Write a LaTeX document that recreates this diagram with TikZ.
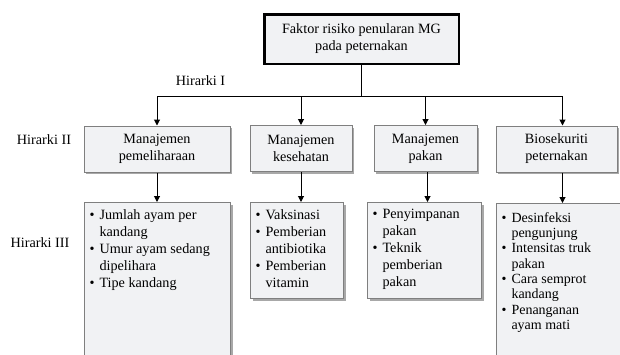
\documentclass[tikz,border=0pt]{standalone}
\usepackage{fontspec}
\usepackage{enumitem}
\setmainfont{Liberation Serif}
\usetikzlibrary{arrows.meta,positioning,shadows}

\definecolor{isikotak}{HTML}{F1F2F4}
\definecolor{tepikotak}{HTML}{7F7F7F}
\definecolor{bayangan}{HTML}{A8A8A8}

\newcommand{\isidaftar}[3]{\parbox[t][#2pt][t]{#1pt}{\selectfont\raggedright
  \begin{itemize}[label=\textbullet,align=left,labelwidth=10pt,labelsep=0pt,leftmargin=10pt,
    topsep=0pt,partopsep=0pt,itemsep=0pt,parsep=0pt]#3\end{itemize}}}

\begin{document}
\begin{tikzpicture}[x=1pt,y=-1pt,>={Triangle[length=6pt,width=6pt]},
  every node/.style={font=\fontsize{14.2}{17}\selectfont},
  puncak/.style={draw=black,line width=2.5pt,fill=isikotak,align=center,
    minimum width=194.5,minimum height=49.5},
  kotak/.style={draw=tepikotak,line width=1pt,fill=isikotak,
    drop shadow={shadow xshift=2pt,shadow yshift=-2pt,fill=bayangan,opacity=1}},
  tengah/.style={kotak,align=center,minimum height=46},
  daftar/.style={kotak,anchor=north,inner xsep=5pt,inner ysep=7pt},
  garis/.style={line width=1pt}]
  \useasboundingbox (0,0) rectangle (620,354);
  \clip (0,0) rectangle (620,354);

  \node[puncak] (faktor) at (361.5,39) {Faktor risiko penularan MG\\pada peternakan};
  \coordinate (bus) at (361.5,96);

  \node[tengah,minimum width=146] (m1) at (157,149) {Manajemen\\pemeliharaan};
  \node[tengah,minimum width=102] (m2) at (301,148.5) {Manajemen\\kesehatan};
  \node[tengah,minimum width=103] (m3) at (425.5,148.5) {Manajemen\\pakan};
  \node[tengah,minimum width=121] (m4) at (556.5,149) {Biosekuriti\\peternakan};
  \coordinate (t4) at ([xshift=6pt]m4.north);
  \coordinate (b4) at ([xshift=6pt]m4.south);
  \coordinate (b3) at ([xshift=2pt]m3.south);

  \node[daftar] (c1) at (157.5,202) {\isidaftar{136}{165}{%
    \item Jumlah ayam per\newline kandang
    \item Umur ayam sedang\newline dipelihara
    \item Tipe kandang}};
  \node[daftar] (c2) at (297,202) {\isidaftar{83}{82}{%
    \item Vaksinasi
    \item Pemberian\newline antibiotika
    \item Pemberian\newline vitamin}};
  \node[daftar] (c3) at (424.5,202) {\isidaftar{104}{82}{%
    \item Penyimpanan\newline pakan
    \item Teknik\newline pemberian\newline pakan}};
  \node[daftar,inner ysep=9pt,font=\fontsize{14}{15.3}\selectfont] (c4) at (560,203) {\isidaftar{117}{165}{%
    \item Desinfeksi\newline pengunjung
    \item Intensitas truk\newline pakan
    \item Cara semprot\newline kandang
    \item Penanganan\newline ayam mati}};

  \node (h1) at (200.5,81) {Hirarki I};
  \node (h2) at (44,140) {Hirarki II};
  \node (h3) at (40,243) {Hirarki III};

  \draw[garis] (faktor.south) -- (bus);
  \draw[garis] (bus -| m1.north) -- (bus -| t4);
  \draw[garis,->] (bus -| m1.north) -- (m1.north);
  \draw[garis,->] (bus -| m2.north) -- (m2.north);
  \draw[garis,->] (bus -| m3.north) -- (m3.north);
  \draw[garis,->] (bus -| t4) -- (t4);

  \draw[garis,->] (m1.south) -- (m1.south |- c1.north);
  \draw[garis,->] (m2.south) -- (m2.south |- c2.north);
  \draw[garis,->] (b3) -- (b3 |- c3.north);
  \draw[garis,->] (b4) -- (b4 |- c4.north);
\end{tikzpicture}
\end{document}
